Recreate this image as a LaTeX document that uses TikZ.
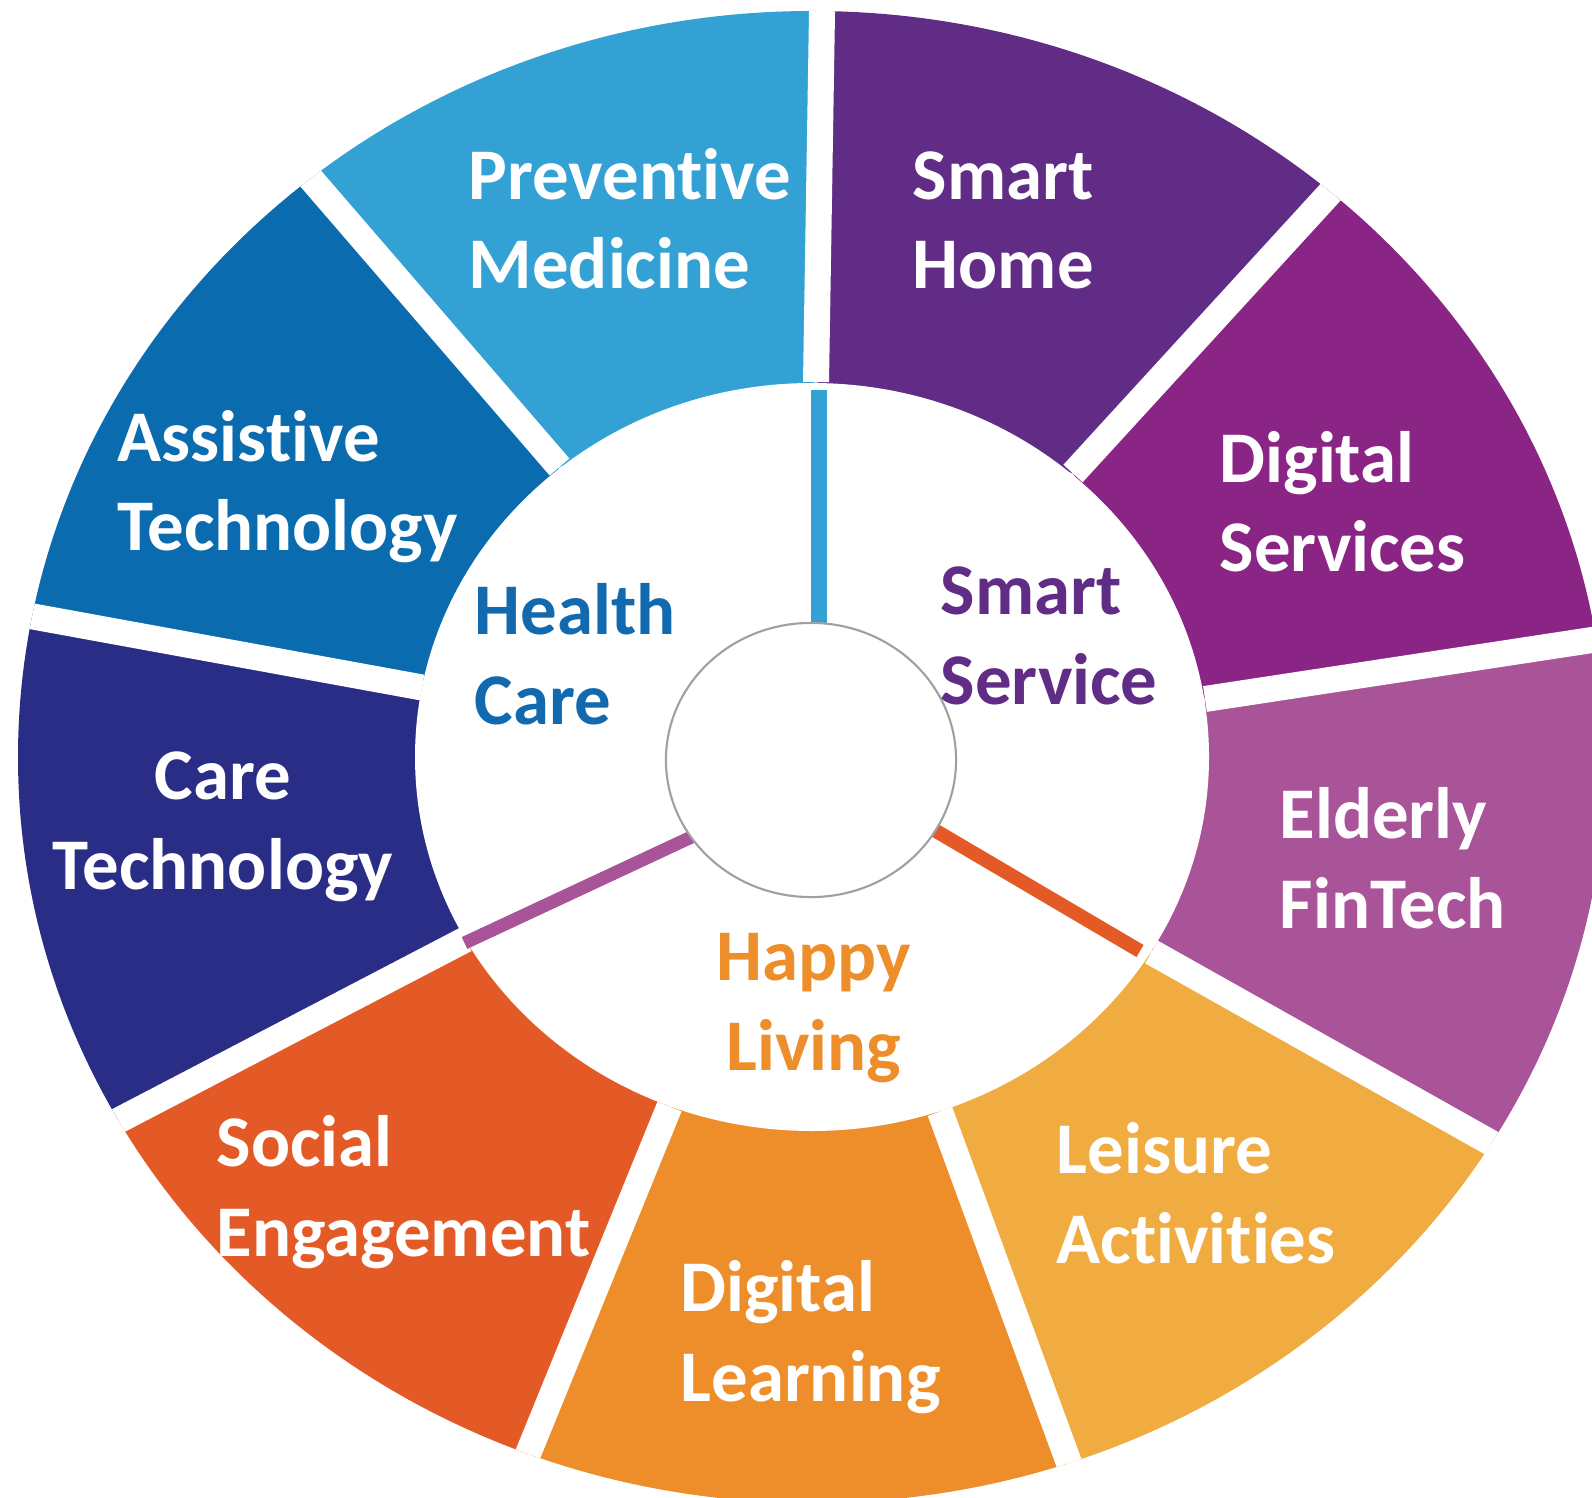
\documentclass[tikz,border=0pt]{standalone}
\usepackage{fontspec}
\setmainfont{Carlito}[Ligatures=NoCommon]
\usetikzlibrary{calc}
\usetikzlibrary{shapes.geometric}

\definecolor{prevblue}{RGB}{51,161,212}
\definecolor{homepurple}{RGB}{97,44,134}
\definecolor{servmagenta}{RGB}{138,37,133}
\definecolor{finpink}{RGB}{169,83,153}
\definecolor{leisureyellow}{RGB}{241,172,65}
\definecolor{learnorange}{RGB}{237,142,42}
\definecolor{socialred}{RGB}{227,90,39}
\definecolor{careindigo}{RGB}{42,45,134}
\definecolor{assistblue}{RGB}{10,107,175}
\definecolor{healthtext}{RGB}{18,105,174}
\definecolor{hubgray}{RGB}{160,160,160}

\newcommand{\ringfont}{\bfseries\fontsize{20.7}{25.5}\selectfont}

\tikzset{
  gapline/.style={draw=white,line width=0.26cm},
  seglabel/.style={font=\ringfont,text=white,anchor=base west,align=left,inner sep=0pt},
  hublabel/.style={font=\ringfont,anchor=base west,align=left,inner sep=0pt},
  hub/.style={ellipse,draw=hubgray,fill=white,line width=0.6pt,inner sep=0pt,
    minimum width=2.9cm,minimum height=2.74cm}
}

\begin{document}
\begin{tikzpicture}[x=0.01cm,y=-0.01cm]
\useasboundingbox (0,0) rectangle (1592,1498);

% gaps: inner point, outer point
\coordinate (g1i) at (816,382);     \coordinate (g1o) at (822,12);
\coordinate (g2i) at (1073,473.5);  \coordinate (g2o) at (1328,195);
\coordinate (g3i) at (1205,699);    \coordinate (g3o) at (1592,640);
\coordinate (g4i) at (1151.5,952);  \coordinate (g4o) at (1489.5,1142);
\coordinate (g5i) at (940,1111.5);  \coordinate (g5o) at (1069,1463);
\coordinate (g6i) at (669.5,1106.5); \coordinate (g6o) at (527.5,1455);
\coordinate (g7i) at (465.5,939.5); \coordinate (g7o) at (117.5,1121);
\coordinate (g8i) at (422,687.5);   \coordinate (g8o) at (33,616.5);
\coordinate (g9i) at (559.5,467);   \coordinate (g9o) at (311.5,179.5);

\begin{scope}
\clip (812,757) ellipse [x radius=794, y radius=746];
\fill[homepurple] (g1i) -- ($(g1i)!1.6!(g1o)$) -- ($(g2i)!1.6!(g2o)$) -- (g2i) -- cycle;
\fill[servmagenta] (g2i) -- ($(g2i)!1.6!(g2o)$) -- ($(g3i)!1.6!(g3o)$) -- (g3i) -- cycle;
\fill[finpink] (g3i) -- ($(g3i)!1.6!(g3o)$) -- ($(g4i)!1.6!(g4o)$) -- (g4i) -- cycle;
\fill[leisureyellow] (g4i) -- ($(g4i)!1.6!(g4o)$) -- ($(g5i)!1.6!(g5o)$) -- (g5i) -- cycle;
\fill[learnorange] (g5i) -- ($(g5i)!1.6!(g5o)$) -- ($(g6i)!1.6!(g6o)$) -- (g6i) -- cycle;
\fill[socialred] (g6i) -- ($(g6i)!1.6!(g6o)$) -- ($(g7i)!1.6!(g7o)$) -- (g7i) -- cycle;
\fill[careindigo] (g7i) -- ($(g7i)!1.6!(g7o)$) -- ($(g8i)!1.6!(g8o)$) -- (g8i) -- cycle;
\fill[assistblue] (g8i) -- ($(g8i)!1.6!(g8o)$) -- ($(g9i)!1.6!(g9o)$) -- (g9i) -- cycle;
\fill[prevblue] (g9i) -- ($(g9i)!1.6!(g9o)$) -- ($(g1i)!1.6!(g1o)$) -- (g1i) -- cycle;
\draw[gapline] (g1i) -- ($(g1i)!1.6!(g1o)$);
\draw[gapline] (g2i) -- ($(g2i)!1.6!(g2o)$);
\draw[gapline] (g3i) -- ($(g3i)!1.6!(g3o)$);
\draw[gapline] (g4i) -- ($(g4i)!1.6!(g4o)$);
\draw[gapline] (g5i) -- ($(g5i)!1.6!(g5o)$);
\draw[gapline] (g6i) -- ($(g6i)!1.6!(g6o)$);
\draw[gapline] (g7i) -- ($(g7i)!1.6!(g7o)$);
\draw[gapline] (g8i) -- ($(g8i)!1.6!(g8o)$);
\draw[gapline] (g9i) -- ($(g9i)!1.6!(g9o)$);
\end{scope}
\fill[white] (812,757) ellipse [x radius=397, y radius=374];

% dividers of the inner ring
\coordinate (bluetop) at (819,390);     \coordinate (blueend) at (819,700);
\coordinate (purpletop) at (464.5,943); \coordinate (purpleend) at (745,812);
\coordinate (orangetop) at (1140,951);  \coordinate (orangeend) at (885,801);
\draw[prevblue,line width=0.16cm] (bluetop) -- (blueend);
\draw[finpink,line width=0.13cm] (purpletop) -- (purpleend);
\draw[socialred,line width=0.14cm] (orangetop) -- (orangeend);

\node[hub] (hub) at (811,760) {};

% ring labels (anchor = baseline of the second line)
\node[seglabel] (prev) at (468,289) {Preventive\\Medicine};
\node[seglabel] (home) at (912,289) {Smart\\Home};
\node[seglabel] (digserv) at (1219,572) {Digital\\Services};
\node[seglabel] (fintech) at (1279,928) {Elderly\\FinTech};
\node[seglabel] (leisure) at (1056,1263) {Leisure\\Activities};
\node[seglabel] (learn) at (680,1401) {Digital\\Learning};
\node[seglabel] (social) at (216,1256) {Social\\Engagement};
\node[seglabel,anchor=base,align=center] (caretech) at (223,889) {Care\\Technology};
\node[seglabel] (assist) at (117,551) {Assistive\\Technology};

% inner labels
\node[hublabel,text=healthtext] (health) at (474,724) {Health\\Care};
\node[hublabel,text=homepurple] (smartserv) at (940,704) {Smart\\Service};
\node[hublabel,text=learnorange,anchor=base,align=center] (happy) at (814,1070) {Happy\\Living};

\end{tikzpicture}
\end{document}
